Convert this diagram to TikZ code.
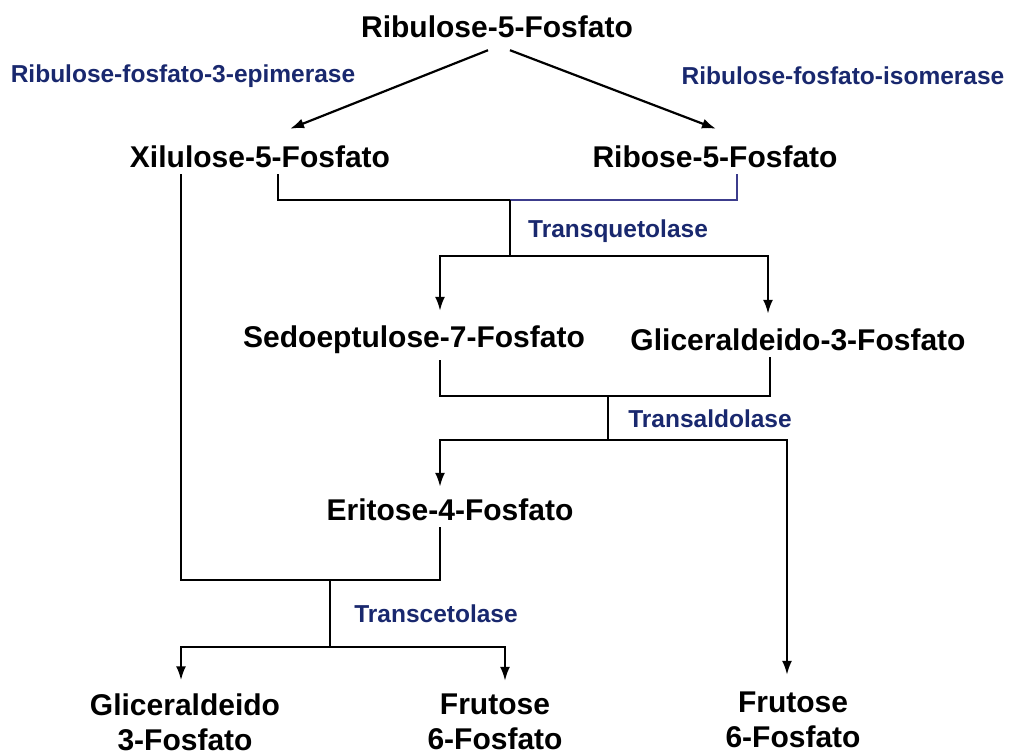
\documentclass[tikz,border=0pt]{standalone}
\usepackage{fontspec}
\setmainfont{Liberation Sans}
\usetikzlibrary{arrows.meta,calc}
\definecolor{enz}{RGB}{25,40,110}
\definecolor{bl}{RGB}{60,60,140}
\begin{document}
\begin{tikzpicture}[x=1pt,y=-1pt,
  met/.style={font=\fontsize{30}{35}\selectfont\bfseries, inner sep=3pt, align=center},
  enzl/.style={font=\fontsize{24.5}{28}\selectfont\bfseries, text=enz, inner sep=2pt},
  ln/.style={line width=2.2pt},
  arr/.style={line width=2.2pt, -{Latex[length=14pt,width=10pt]}}]
\useasboundingbox[fill=white] (0,0) rectangle (1012,755);
% metabolites
\node[met] (rib) at (497,27) {Ribulose-5-Fosfato};
\node[met] (xil) at (260,157) {Xilulose-5-Fosfato};
\node[met] (ribo) at (715,157) {Ribose-5-Fosfato};
\node[met] (sed) at (414,340) {Sedoeptulose-7-Fosfato};
\node[met] (gli) at (798,340) {Gliceraldeido-3-Fosfato};
\node[met] (eri) at (450,510) {Eritose-4-Fosfato};
\node[met] (g3) at (185,722) {Gliceraldeido\\3-Fosfato};
\node[met] (f6a) at (495,722) {Frutose\\6-Fosfato};
\node[met] (f6b) at (793,720) {Frutose\\6-Fosfato};
% enzymes
\node[enzl] (epi) at (183,76) {Ribulose-fosfato-3-epimerase};
\node[enzl] (iso) at (843,76) {Ribulose-fosfato-isomerase};
\node[enzl] (tq) at (618,231) {Transquetolase};
\node[enzl] (ta) at (710,419) {Transaldolase};
\node[enzl] (tc) at (436,614) {Transcetolase};
% junctions
\coordinate (j1) at (510,200);
\coordinate (j2) at (510,256);
\coordinate (j3) at (608,396);
\coordinate (j4) at (608,440);
\coordinate (j5) at (330,580);
\coordinate (j6) at (330,647);
% arrows from Ribulose-5-Fosfato
\draw[arr] ($(rib.south)+(-9,9)$) -- ($(xil.north)+(30,-14)$);
\draw[arr] ($(rib.south)+(13,9)$) -- ($(ribo.north)+(1,-14)$);
% Transquetolase
\draw[ln] ($(xil.south)+(18,3)$) |- (j1);
\draw[ln,bl] (j1) -| ($(ribo.south)+(22,3)$);
\draw[ln] (j1) -- (j2);
\draw[arr] (j2) -| ($(sed.north)+(26,-12)$);
\draw[arr] (j2) -| ($(gli.north)+(-30,-12)$);
% Transaldolase
\draw[ln] ($(sed.south)+(26,3)$) |- (j3);
\draw[ln] ($(gli.south)+(-28,3)$) |- (j3);
\draw[ln] (j3) -- (j4);
\draw[arr] (j4) -| ($(eri.north)+(-10,-9)$);
\draw[arr] (j4) -| ($(f6b.north)+(-6,-14)$);
% Transcetolase
\draw[ln] ($(xil.south)+(-79,3)$) |- (j5);
\draw[ln] ($(eri.south)+(-10,3)$) |- (j5);
\draw[ln] (j5) -- (j6);
\draw[arr] (j6) -| ($(g3.north)+(-4,-10)$);
\draw[arr] (j6) -| ($(f6a.north)+(10,-10)$);
\end{tikzpicture}
\end{document}
